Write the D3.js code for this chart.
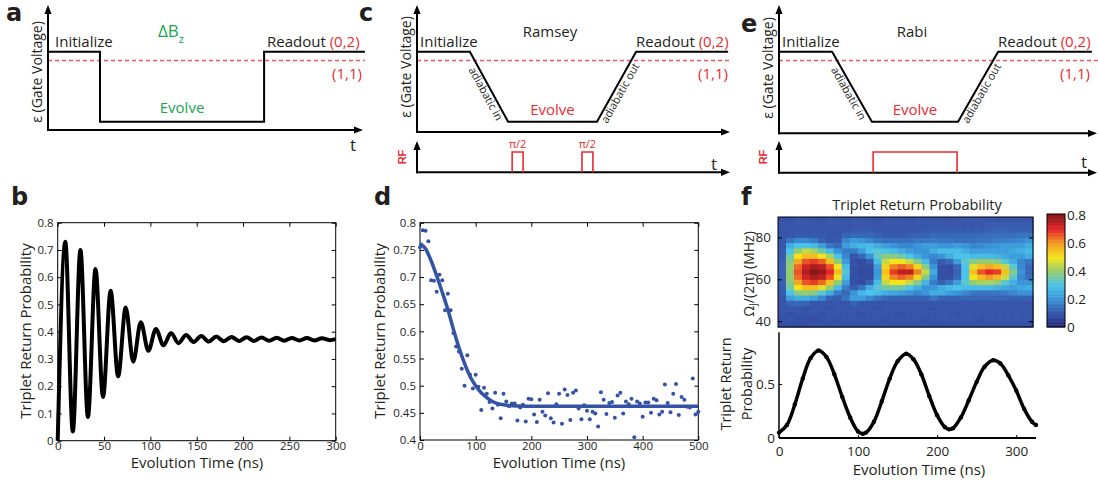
<!DOCTYPE html>
<html>
<head>
<meta charset="utf-8">
<script src="https://cdn.jsdelivr.net/npm/d3@7"></script>
<style>
body { margin: 0; background: #fff; }
svg { display: block; font-family: "Open Sans", sans-serif; }
</style>
</head>
<body>
<svg id="fig" width="1098" height="485"></svg>
<script>
'use strict';

// ---------- data ----------

// a, c, e: pulse schematics. time in % of the t axis, eps in arbitrary units
var EPS_HI = 10, EPS_LO = 1.25, EPS_TH = 8.9;
var seqATime  = [0, 16.5, 16.5, 68.6, 68.6, 100.6];
var seqALevel = [EPS_HI, EPS_HI, EPS_LO, EPS_LO, EPS_HI, EPS_HI];
var seqCTime  = [0, 16.9, 29.1, 57.5, 70.0, 99.4];
var seqETime  = [0, 16.7, 29.2, 56.3, 68.9, 98.4];
var seqRampLevel = [EPS_HI, EPS_HI, EPS_LO, EPS_LO, EPS_HI, EPS_HI];
var rfRamsey = [[30.4, 33.9], [52.7, 56.2]];
var rfRabi   = [[29.6, 56.0]];

// b: Delta Bz oscillation (extrema)
var bTime = [0, 8.2, 16.3, 24.5, 32.6, 40.8, 48.9, 57.1, 65.2, 73.4,
             81.5, 89.7, 97.8, 106, 114.1, 122.3, 130.4, 138.6, 146.7, 154.9,
             163, 171.2, 179.3, 187.5, 195.6, 203.8, 211.9, 220, 228.2, 236.3,
             244.5, 252.6, 260.8, 268.9, 277, 285.2, 293.4, 300];
var bProb = [0, 0.73, 0.034, 0.70, 0.087, 0.63, 0.16, 0.55, 0.236, 0.489,
             0.29, 0.435, 0.33, 0.41, 0.35, 0.395, 0.358, 0.388, 0.362, 0.384,
             0.364, 0.382, 0.365, 0.381, 0.366, 0.380, 0.366, 0.379, 0.367, 0.378,
             0.367, 0.377, 0.368, 0.377, 0.368, 0.376, 0.369, 0.373];
var bTicksX = [0, 50, 100, 150, 200, 250, 300];
var bTicksY = [0, 0.1, 0.2, 0.3, 0.4, 0.5, 0.6, 0.7, 0.8];

// d: Ramsey decay, points every 5 ns and the Gaussian fit
var dStep = 5;
var dProb = [0.755, 0.786, 0.785, 0.766, 0.694, 0.693, 0.673, 0.704, 0.694, 0.639,
             0.669, 0.639, 0.597, 0.572, 0.563, 0.531, 0.500, 0.556, 0.520, 0.495,
             0.520, 0.498, 0.455, 0.496, 0.485, 0.470, 0.458, 0.487, 0.465, 0.440,
             0.485, 0.471, 0.462, 0.467, 0.467, 0.436, 0.460, 0.465, 0.434, 0.476,
             0.475, 0.447, 0.433, 0.474, 0.452, 0.445, 0.486, 0.440, 0.432, 0.466,
             0.485, 0.430, 0.493, 0.483, 0.437, 0.487, 0.491, 0.458, 0.438, 0.464,
             0.454, 0.438, 0.452, 0.449, 0.425, 0.488, 0.474, 0.448, 0.468, 0.470,
             0.441, 0.482, 0.487, 0.449, 0.471, 0.466, 0.476, 0.405, 0.471, 0.467,
             0.443, 0.469, 0.469, 0.450, 0.476, 0.473, 0.447, 0.452, 0.502, 0.468,
             0.451, 0.485, 0.503, 0.446, 0.479, 0.474, 0.461, 0.460, 0.513, 0.447,
             0.452];
var dFitTime = [0, 10, 20, 30, 40, 50, 60, 70, 80, 90, 100, 110, 120, 130, 140, 150, 160, 180, 200, 500];
var dFitProb = [0.762, 0.752, 0.730, 0.702, 0.672, 0.640, 0.604, 0.570, 0.541, 0.517,
                0.500, 0.487, 0.478, 0.471, 0.467, 0.465, 0.4635, 0.4625, 0.462, 0.462];
var dTicksX = [0, 100, 200, 300, 400, 500];
var dTicksY = [0.4, 0.45, 0.5, 0.55, 0.6, 0.65, 0.7, 0.75, 0.8];

// f: Rabi chevron (rows = frequency in MHz, columns = 10 ns bins, values in %)
var heatTime = [5, 15, 25, 35, 45, 55, 65, 75, 85, 95, 105, 115, 125, 135, 145, 155,
                165, 175, 185, 195, 205, 215, 225, 235, 245, 255, 265, 275, 285, 295, 305, 315];
var heatFreq = [88.5, 86, 83.5, 81, 78.5, 76, 73.5, 71, 68.5, 66, 63.5,
                61, 58.5, 56, 53.5, 51, 48.5, 46, 43.5, 41, 38.5];
var heatVal = [
  [ 9, 9,10,10, 9, 9,10,10, 9,10,10, 9, 9,10,10,10, 9,10,10,10,10, 9,10,10,10,10,10, 9,10,10,10,10],
  [10,10,10,10,10,10,10,10,10,10,10,10,10,10,10,10,10,10,10,10,10,10,10,10,10,10,11,11,11,11,11,11],
  [10,10,10,10,10,10,10,10,10,11,11,11,10,10,10,10,10,10,11,11,11,11,11,11,11,11,12,12,12,12,12,12],
  [10,10,11,11,11,11,10,10,12,13,13,13,12,11,11,11,12,12,12,13,13,13,13,13,13,13,14,14,14,14,15,15],
  [10,15,18,18,16,12,10,11,18,22,20,18,15,14,14,14,14,15,15,16,15,15,14,14,14,15,15,16,16,17,18,20],
  [10,25,30,30,28,22,15,13,22,25,27,28,25,22,20,18,18,20,22,22,20,20,22,20,18,18,20,20,22,22,22,25],
  [11,30,40,45,42,35,28,20,16,16,22,30,32,30,28,25,22,20,20,25,28,28,28,25,22,22,22,22,22,24,26,28],
  [11,35,50,55,55,50,42,30,18,10,13,20,33,38,38,35,30,25,20,18,20,25,30,30,28,28,28,26,24,22,22,25],
  [12,38,58,66,68,65,55,40,22, 9, 8,11,28,45,50,50,45,38,28,16,11,13,22,32,38,40,40,38,32,25,18,15],
  [12,40,64,72,76,74,66,50,28, 9, 8, 8,22,52,62,65,62,52,38,20, 9, 8,13,30,48,55,58,55,45,32,18,13],
  [12,40,66,75,80,78,70,55,32, 9, 7, 8,20,55,68,74,74,62,45,25, 9, 8,12,30,55,66,70,68,55,38,20,13],
  [12,40,64,72,76,74,66,50,28, 9, 8, 8,22,52,62,65,62,52,38,20, 9, 9,13,30,50,56,60,56,46,32,18,14],
  [12,38,58,66,68,64,55,40,22, 9, 8,12,28,45,50,50,45,38,27,16,12,15,22,32,40,42,42,40,32,25,20,20],
  [11,35,50,55,55,48,40,28,16,11,15,25,32,35,36,35,30,25,20,20,25,28,30,28,28,28,28,26,24,22,24,25],
  [11,30,38,40,38,32,25,16,13,20,27,30,28,25,24,22,20,18,20,25,25,22,20,18,15,15,15,15,16,18,20,20],
  [10,22,25,25,22,18,12,11,15,22,22,18,15,13,12,12,12,12,12,15,12,12,12,12,12,12,12,12,12,12,12,12],
  [10,12,13,12,10,10,10,10,10,12,10,10,10,10,10,10,10,10,10,10,10,10,10,10,10,10,10,10,10,10,10,10],
  [10,10,10, 9,10,10, 9,10,10,10,10,10, 9,10,10,10,10,10,10, 9,10,10,10,10,10,10,10,10,10,10,10,10],
  [10, 9,10,10,10, 9,10,10,10,10, 9,10,10,10,10, 9,10,10,10,10,10,10, 9,10,10,10,10,10,10,10,10,10],
  [ 9,10, 9, 9, 8, 9,10, 9,10,10,10,10,10, 9,10,10,10,10, 9,10,10,10,10,10,10, 9,10,10,10,10,10,10],
  [ 9, 9, 8, 8, 9, 9, 9, 9, 9, 9, 9, 9, 9, 9, 9, 9, 9, 9, 9, 9, 9, 9, 9, 9, 9, 9, 9, 9, 9, 9, 9, 9]
];
var heatTicksY = [40, 60, 80];
var cbarTicks = [0, 0.2, 0.4, 0.6, 0.8];

// f lower: line cut at resonance
var fTime = [0, 10, 20, 30, 40, 50, 60, 70, 80, 90, 100, 106, 110, 120, 130, 140, 150, 161,
             170, 180, 190, 200, 210, 215, 220, 230, 240, 250, 260, 271, 280, 290, 300, 310, 320, 325];
var fProb = [0.05, 0.12, 0.31, 0.55, 0.74, 0.81, 0.75, 0.59, 0.38, 0.19, 0.06, 0.04, 0.05, 0.15,
             0.34, 0.55, 0.71, 0.78, 0.73, 0.59, 0.39, 0.21, 0.10, 0.08, 0.09, 0.19, 0.35, 0.52,
             0.66, 0.72, 0.69, 0.58, 0.44, 0.27, 0.15, 0.12];
var fTicksX = [0, 100, 200, 300];
var fTicksY = [0, 0.5];

// ---------- drawing ----------

var RED = '#ea2a2f', DASH_RED = '#ef5a5d', GREEN = '#20a550', BLUE = '#3553a6', INK = '#231f20';
var FONT = '"Open Sans", sans-serif';

var svg = d3.select('#fig');
svg.append('rect').attr('width', 1098).attr('height', 485).attr('fill', '#fff');

function text(g, x, y, s, size, anchor, color) {
    return g.append('text')
        .attr('x', x).attr('y', y)
        .attr('font-size', size)
        .attr('text-anchor', anchor || 'start')
        .attr('fill', color || INK)
        .text(s);
}

function rotText(g, x, y, angle, s, size, anchor, color) {
    return g.append('text')
        .attr('transform', 'translate(' + x + ',' + y + ') rotate(' + angle + ')')
        .attr('font-size', size)
        .attr('text-anchor', anchor || 'middle')
        .attr('fill', color || INK)
        .text(s);
}

function panelLabel(x, y, s) {
    svg.append('text').attr('x', x).attr('y', y)
        .attr('font-family', '"DejaVu Sans", sans-serif')
        .attr('font-weight', 'bold').attr('font-size', 24)
        .attr('fill', INK).text(s);
}

function arrow(g, x1, y1, x2, y2) {
    var a = Math.atan2(y2 - y1, x2 - x1), L = 9, W = 3.6;
    var bx = x2 - L * Math.cos(a), by = y2 - L * Math.sin(a);
    g.append('line').attr('x1', x1).attr('y1', y1).attr('x2', bx).attr('y2', by)
        .attr('stroke', '#000').attr('stroke-width', 2);
    g.append('path')
        .attr('d', d3.line()([[x2, y2],
            [bx - W * Math.sin(a), by + W * Math.cos(a)],
            [bx + W * Math.sin(a), by - W * Math.cos(a)]]) + 'Z')
        .attr('fill', '#000');
}

// pulse schematic: eps(t) trace with the (0,2)/(1,1) boundary
function drawScheme(cfg) {
    var g = svg.append('g');
    var x = d3.scaleLinear().domain([0, 100]).range([cfg.x0, cfg.x1]);
    var y = d3.scaleLinear().domain([0, 10]).range([131.7, 51.7]);

    g.append('line')
        .attr('x1', x(0)).attr('x2', x(cfg.dashEnd))
        .attr('y1', y(EPS_TH)).attr('y2', y(EPS_TH))
        .attr('stroke', DASH_RED).attr('stroke-width', 1.3)
        .attr('stroke-dasharray', '4,3');

    arrow(g, x(0), cfg.axisY + 1, x(0), 5);
    arrow(g, x(0) - 1, cfg.axisY, x(100), cfg.axisY);

    g.append('path')
        .datum(d3.zip(cfg.time, cfg.level))
        .attr('d', d3.line().x(function(d) { return x(d[0]); }).y(function(d) { return y(d[1]); }))
        .attr('fill', 'none').attr('stroke', '#000').attr('stroke-width', 2);

    rotText(g, x(0) - 6, cfg.epsY, -90, 'ε (Gate Voltage)', 14);
    text(g, x(0) + cfg.initDx, 47, 'Initialize', 15);
    var ro = text(g, cfg.readX, 47, 'Readout ', 15);
    ro.append('tspan').attr('fill', RED).text('(0,2)');
    text(g, cfg.readEnd, 79, '(1,1)', 15, 'end', RED);

    return { g: g, x: x, y: y };
}

function rampLabel(g, p1, p2, s, s0) {
    var a = Math.atan2(p2[1] - p1[1], p2[0] - p1[0]);
    var ux = Math.cos(a), uy = Math.sin(a);
    var dx = -Math.sin(a), dy = Math.cos(a);
    var px = p1[0] + ux * s0 + dx * 10, py = p1[1] + uy * s0 + dy * 10;
    rotText(g, px, py, a * 180 / Math.PI, s, 11, 'start');
}

function drawRF(s, pulses, axisY, tipX, labelX) {
    var r = d3.scaleLinear().domain([0, 1]).range([axisY, 152]);
    arrow(s.g, s.x(0), axisY + 1, s.x(0), 141);
    arrow(s.g, s.x(0) - 1, axisY, tipX, axisY);
    pulses.forEach(function(p) {
        s.g.append('path')
            .attr('d', d3.line()([[s.x(p[0]), r(0)], [s.x(p[0]), r(1)], [s.x(p[1]), r(1)], [s.x(p[1]), r(0)]]))
            .attr('fill', 'none').attr('stroke', RED).attr('stroke-width', 1.6);
    });
    rotText(s.g, labelX, 157, -90, 'RF', 11, 'middle', RED)
        .attr('font-family', '"Liberation Sans", Arial, sans-serif').attr('font-weight', 'bold');
    return r;
}

// --- a
var sa = drawScheme({ x0: 48, x1: 363, axisY: 130, dashEnd: 100.6, time: seqATime, level: seqALevel,
                      epsY: 72, initDx: 7, readX: 267, readEnd: 362 });
var dB = text(sa.g, 158, 37, 'ΔB', 17, 'start', GREEN);
dB.append('tspan').attr('font-size', 11).attr('dy', 6).text('z');
text(sa.g, sa.x((seqATime[2] + seqATime[3]) / 2), 113, 'Evolve', 15, 'middle', GREEN);
text(sa.g, 350, 151, 't', 17);

// --- c
var sc = drawScheme({ x0: 417, x1: 730, axisY: 132, dashEnd: 100, time: seqCTime, level: seqRampLevel,
                      epsY: 67, initDx: 3, readX: 636, readEnd: 728 });
text(sc.g, 550, 37, 'Ramsey', 15, 'middle');
text(sc.g, sc.x((seqCTime[2] + seqCTime[3]) / 2), 115, 'Evolve', 15, 'middle', RED);
rampLabel(sc.g, [sc.x(seqCTime[1]), sc.y(EPS_HI)], [sc.x(seqCTime[2]), sc.y(EPS_LO)], 'adiabatic in', 15);
rampLabel(sc.g, [sc.x(seqCTime[3]), sc.y(EPS_LO)], [sc.x(seqCTime[4]), sc.y(EPS_HI)], 'adiabatic out', 3);
drawRF(sc, rfRamsey, 172.3, 730, 406);
rfRamsey.forEach(function(p) {
    text(sc.g, sc.x((p[0] + p[1]) / 2), 148, 'π/2', 11, 'middle', RED);
});
text(sc.g, 711, 170, 't', 17);

// --- e
var se = drawScheme({ x0: 779, x1: 1097, axisY: 133.3, dashEnd: 100.3, time: seqETime, level: seqRampLevel,
                      epsY: 68, initDx: 3, readX: 998, readEnd: 1090 });
text(se.g, 912, 37, 'Rabi', 15, 'middle');
text(se.g, se.x((seqETime[2] + seqETime[3]) / 2), 115, 'Evolve', 15, 'middle', RED);
rampLabel(se.g, [se.x(seqETime[1]), se.y(EPS_HI)], [se.x(seqETime[2]), se.y(EPS_LO)], 'adiabatic in', 15);
rampLabel(se.g, [se.x(seqETime[3]), se.y(EPS_LO)], [se.x(seqETime[4]), se.y(EPS_HI)], 'adiabatic out', 3);
drawRF(se, rfRabi, 172.7, 1097, 767);
text(se.g, 1081, 168, 't', 17);

// --- framed data axes for b and d
function styleAxis(g, size) {
    g.select('.domain').remove();
    g.selectAll('line').attr('stroke', '#000');
    g.selectAll('text').attr('font-family', FONT).attr('font-size', size).attr('fill', INK);
}

function boxAxes(x, y, ticksX, ticksY, fmt) {
    var g = svg.append('g');
    var r = x.range(), t = y.range();
    g.append('g').attr('transform', 'translate(0,' + t[0] + ')')
        .call(d3.axisBottom(x).tickValues(ticksX).tickSize(-4).tickPadding(1.5))
        .call(styleAxis, 11.5);
    g.append('g').attr('transform', 'translate(0,' + t[1] + ')')
        .call(d3.axisTop(x).tickValues(ticksX).tickSize(-4).tickFormat(''))
        .call(styleAxis, 11.5);
    g.append('g').attr('transform', 'translate(' + r[0] + ',0)')
        .call(d3.axisLeft(y).tickValues(ticksY).tickSize(-4).tickPadding(4).tickFormat(fmt))
        .call(styleAxis, 11.5);
    g.append('g').attr('transform', 'translate(' + r[1] + ',0)')
        .call(d3.axisRight(y).tickValues(ticksY).tickSize(-4).tickFormat(''))
        .call(styleAxis, 11.5);
    g.append('rect').attr('x', r[0]).attr('y', t[1])
        .attr('width', r[1] - r[0]).attr('height', t[0] - t[1])
        .attr('fill', 'none').attr('stroke', '#000').attr('stroke-width', 1);
    return g;
}

// --- b
panelLabel(11, 205, 'b');
var xb = d3.scaleLinear().domain([0, 300]).range([57.7, 335.7]);
var yb = d3.scaleLinear().domain([0, 0.8]).range([440.7, 222.7]);
var gb = boxAxes(xb, yb, bTicksX, bTicksY, d3.format('.1~f'));
gb.append('path')
    .datum(d3.zip(bTime, bProb))
    .attr('d', d3.line().x(function(d) { return xb(d[0]); }).y(function(d) { return yb(d[1]); })
        .curve(d3.curveMonotoneX))
    .attr('fill', 'none').attr('stroke', '#000').attr('stroke-width', 4).attr('stroke-linejoin', 'round');
rotText(gb, 31, 331, -90, 'Triplet Return Probability', 15);
text(gb, 197, 468, 'Evolution Time (ns)', 15, 'middle');

// --- d
panelLabel(374, 205, 'd');
var xd = d3.scaleLinear().domain([0, 500]).range([420, 698.3]);
var yd = d3.scaleLinear().domain([0.4, 0.8]).range([440, 222.7]);
var gd = boxAxes(xd, yd, dTicksX, dTicksY, d3.format('.2~f'));
gd.append('g').selectAll('circle')
    .data(dProb)
    .enter().append('circle')
    .attr('cx', function(d, i) { return xd(i * dStep); })
    .attr('cy', function(d) { return yd(d); })
    .attr('r', 2)
    .attr('fill', BLUE);
gd.append('path')
    .datum(d3.zip(dFitTime, dFitProb))
    .attr('d', d3.line().x(function(d) { return xd(d[0]); }).y(function(d) { return yd(d[1]); })
        .curve(d3.curveMonotoneX))
    .attr('fill', 'none').attr('stroke', BLUE).attr('stroke-width', 3.5);
rotText(gd, 385, 331, -90, 'Triplet Return Probability', 15);
text(gd, 559, 468, 'Evolution Time (ns)', 15, 'middle');

// --- f, heat map
panelLabel(741, 205, 'f');
var jet = d3.scaleLinear()
    .domain([0, 0.1, 0.2, 0.3, 0.4, 0.5, 0.6, 0.7, 0.8])
    .range(['#262a7c', '#3755aa', '#3a95d8', '#4cc4ea', '#96cd6c', '#f5e41c', '#f29a22', '#e4262a', '#861717'])
    .clamp(true);
var xh = d3.scaleLinear().domain([0, 320]).range([778, 1033]);
var yh = d3.scaleLinear().domain([37.25, 89.75]).range([327, 217]);
var gh = svg.append('g');
var cellW = xh(10) - xh(0), cellH = yh(0) - yh(2.5);
heatVal.forEach(function(row, ri) {
    gh.append('g').selectAll('rect')
        .data(row)
        .enter().append('rect')
        .attr('x', function(d, ci) { return xh(heatTime[ci] - 5); })
        .attr('y', yh(heatFreq[ri] + 1.25))
        .attr('width', cellW + 0.6)
        .attr('height', cellH + 0.6)
        .attr('fill', function(d) { return jet(d / 100); });
});
gh.append('g').attr('transform', 'translate(' + xh(0) + ',0)')
    .call(d3.axisLeft(yh).tickValues(heatTicksY).tickSize(-4).tickPadding(7))
    .call(styleAxis, 13.5);
gh.append('g').attr('transform', 'translate(' + xh(320) + ',0)')
    .call(d3.axisRight(yh).tickValues(heatTicksY).tickSize(-4).tickFormat(''))
    .call(styleAxis, 13.5);
gh.append('rect').attr('x', xh(0)).attr('y', 217).attr('width', xh(320) - xh(0)).attr('height', 110)
    .attr('fill', 'none').attr('stroke', '#000').attr('stroke-width', 1);
text(gh, 917, 210, 'Triplet Return Probability', 14.5, 'middle');
var om = rotText(gh, 754, 274, -90, 'Ω', 14);
om.append('tspan').attr('font-size', 10).attr('dy', 3).text('J');
om.append('tspan').attr('dy', -3).text('/(2π) (MHz)');

// colour bar
var yc = d3.scaleLinear().domain([0, 0.8]).range([327, 215]);
var cbar = svg.append('g');
cbar.selectAll('rect')
    .data(d3.range(0, 0.8, 0.01))
    .enter().append('rect')
    .attr('x', 1047).attr('width', 18)
    .attr('y', function(d) { return d + 0.01 >= 0.8 ? 214 : yc(d + 0.01); })
    .attr('height', function(d) { return (d + 0.01 >= 0.8 ? yc(d) - 214 : yc(d) - yc(d + 0.01)) + 0.5; })
    .attr('fill', function(d) { return jet(d + 0.005); });
cbar.append('rect').attr('x', 1047).attr('y', 214).attr('width', 18).attr('height', 113)
    .attr('fill', 'none').attr('stroke', '#000').attr('stroke-width', 1);
cbar.selectAll('text.cb')
    .data(cbarTicks)
    .enter().append('text')
    .attr('x', 1067).attr('y', function(d) { return yc(d); })
    .attr('dy', '0.35em')
    .attr('font-size', 13.5).attr('fill', INK)
    .text(d3.format('.1~f'));

// --- f, resonance cut
var xf = d3.scaleLinear().domain([0, 325]).range([779, 1036]);
var yf = d3.scaleLinear().domain([0, 1]).range([438, 330]);
var gf = svg.append('g');
gf.append('g').attr('transform', 'translate(0,' + yf(0) + ')')
    .call(d3.axisBottom(xf).tickValues(fTicksX).tickSize(-3).tickPadding(8.5))
    .call(styleAxis, 13.5);
gf.append('g').attr('transform', 'translate(' + xf(0) + ',0)')
    .call(d3.axisLeft(yf).tickValues(fTicksY).tickSize(-3).tickPadding(4).tickFormat(d3.format('.1~f')))
    .call(styleAxis, 13.5);
gf.append('line').attr('x1', xf(0)).attr('x2', xf(325)).attr('y1', yf(0)).attr('y2', yf(0))
    .attr('stroke', '#000').attr('stroke-width', 2);
gf.append('line').attr('x1', xf(0)).attr('x2', xf(0)).attr('y1', yf(0)).attr('y2', yf(0.98))
    .attr('stroke', '#000').attr('stroke-width', 1.5);
gf.append('path')
    .datum(d3.zip(fTime, fProb))
    .attr('d', d3.line().x(function(d) { return xf(d[0]); }).y(function(d) { return yf(d[1]); })
        .curve(d3.curveCatmullRom))
    .attr('fill', 'none').attr('stroke', '#000').attr('stroke-width', 3.5);
gf.append('g').selectAll('circle')
    .data(d3.zip(fTime, fProb))
    .enter().append('circle')
    .attr('cx', function(d) { return xf(d[0]); })
    .attr('cy', function(d) { return yf(d[1]); })
    .attr('r', 2.2).attr('fill', '#000');
rotText(gf, 731, 384, -90, 'Triplet Return', 14.5);
rotText(gf, 752, 384, -90, 'Probability', 14.5);
text(gf, 919, 475, 'Evolution Time (ns)', 15, 'middle');

// --- top row panel letters
panelLabel(6, 21, 'a');
panelLabel(359, 21, 'c');
panelLabel(741, 32, 'e');
</script>
</body>
</html>
